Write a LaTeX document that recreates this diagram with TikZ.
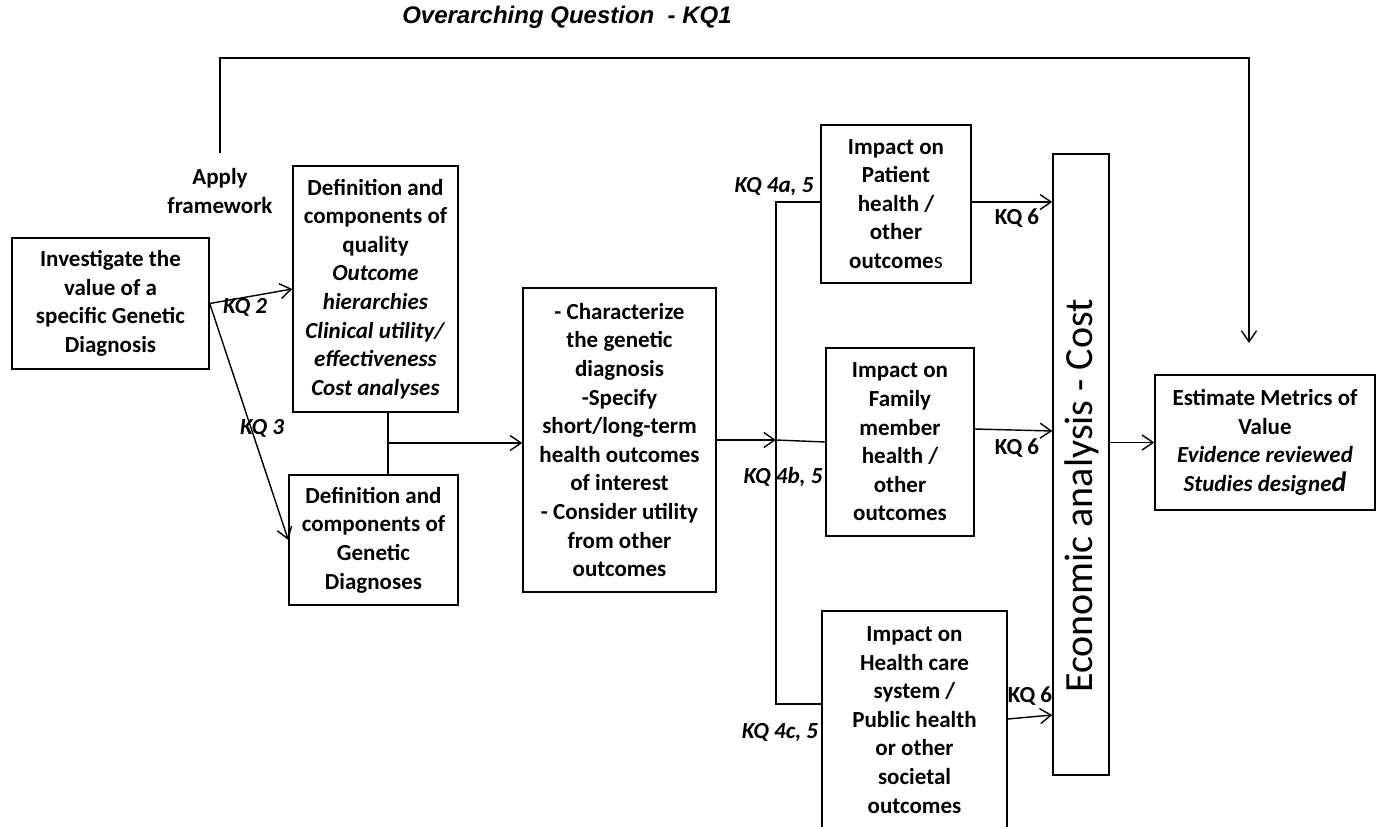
\documentclass[tikz,border=0pt]{standalone}
\usepackage{fontspec}
\setmainfont{Carlito}
\newfontfamily\titlefont{Liberation Sans}
\usetikzlibrary{arrows.meta}

\begin{document}
\begin{tikzpicture}[x=1pt,y=-1pt,
  line width=1.4pt,
  box/.style={draw, rectangle, inner sep=0pt, align=center,
    font=\fontsize{23}{28.6}\selectfont\bfseries},
  kq/.style={inner sep=0pt, font=\fontsize{23}{26}\selectfont\bfseries\itshape},
  kqup/.style={inner sep=0pt, font=\fontsize{23}{26}\selectfont\bfseries},
  arr/.style={-{Straight Barb[length=11pt,width=15pt,line width=1.4pt]}}
]
\useasboundingbox (0,0) rectangle (1382,827);
\clip (0,0) rectangle (1382,827);

% title
\node[inner sep=0pt] (title) at (567,17)
  {\titlefont\fontsize{24}{28}\selectfont\bfseries\itshape Overarching Question\ \ - KQ1};

% boxes
\node[box, minimum width=197, minimum height=131] (inv) at (110.5,303.5)
  {Investigate the\\value of a\\specific Genetic\\Diagnosis};
\node[box, minimum width=165, minimum height=246] (qual) at (375.5,289)
  {Definition and\\components of\\quality\\\textit{Outcome}\\\textit{hierarchies}\\\textit{Clinical utility/}\\\textit{effectiveness}\\\textit{Cost analyses}};
\node[box, minimum width=169, minimum height=130] (gen) at (373.5,540)
  {Definition and\\components of\\Genetic\\Diagnoses};
\node[box, minimum width=193, minimum height=304] (char) at (619.5,440)
  {- Characterize\\the genetic\\diagnosis\\-Specify\\short/long-term\\health outcomes\\of interest\\- Consider utility\\from other\\outcomes};
\node[box, minimum width=150, minimum height=158] (patient) at (896,204)
  {Impact on\\Patient\\health /\\other\\outcome{\mdseries s}};
\node[box, minimum width=148, minimum height=188] (family) at (900,442)
  {Impact on\\Family\\member\\health /\\other\\outcomes};
\node[box, minimum width=185, minimum height=218] (health) at (914.5,720)
  {Impact on\\Health care\\system /\\Public health\\or other\\societal\\outcomes};
\node[box, minimum width=56, minimum height=621] (econ) at (1081,464.5) {};
\node[inner sep=0pt, rotate=90, font=\fontsize{40}{44}\selectfont] (econtext) at (1082,496)
  {Economic analysis - Cost};
\node[box, minimum width=220, minimum height=135] (est) at (1265,442.5)
  {Estimate Metrics of\\Value\\\textit{Evidence reviewed}\\\textit{Studies designe}{\itshape\fontsize{28}{28.6}\selectfont d}};

% labels
\node[box, draw=none] (apply) at (220,191) {Apply\\framework};
\node[kq] (kq2) at (245,307) {KQ 2};
\node[kq] (kq3) at (262,428) {KQ 3};
\node[kq] (kq4a) at (774,187) {KQ 4a, 5};
\node[kq] (kq4b) at (783,477) {KQ 4b, 5};
\node[kq] (kq4c) at (780,733) {KQ 4c, 5};
\node[kqup] (kq6a) at (1017,218) {KQ 6};
\node[kqup] (kq6b) at (1017,448) {KQ 6};
\node[kqup] (kq6c) at (1030,696) {KQ 6};

% overarching loop
\coordinate (loopstart) at (220,153);
\coordinate (loopend) at (1249,343);
\draw[arr] (loopstart) -- (220,58) -- (1249,58) -- (loopend);

% framework arrows
\draw[arr] (inv.east) -- (qual.west);
\draw[arr] (inv.east) -- (gen.west);
\coordinate (join) at (388,443);
\draw (join |- qual.south) -- (join |- gen.north);
\draw[arr] (join) -- (char.west |- join);

% distribution bus
\coordinate (bus) at (776,440);
\coordinate (bustop) at (776,202);
\coordinate (busbot) at (776,704);
\draw[arr] (char.east) -- (bus);
\draw (patient.west |- bustop) -- (bustop) -- (busbot) -- (health.west |- busbot);
\draw (bus) -- (family.west);

% into economic analysis
\draw[arr] (patient.east |- bustop) -- (econ.west |- bustop);
\draw[arr] (family.east |- 0,429) -- (econ.west |- 0,431);
\draw[arr] (health.east |- 0,719) -- (econ.west |- 0,715);
\draw[arr] (econ.east |- est.west) -- (est.west);
\end{tikzpicture}
\end{document}
